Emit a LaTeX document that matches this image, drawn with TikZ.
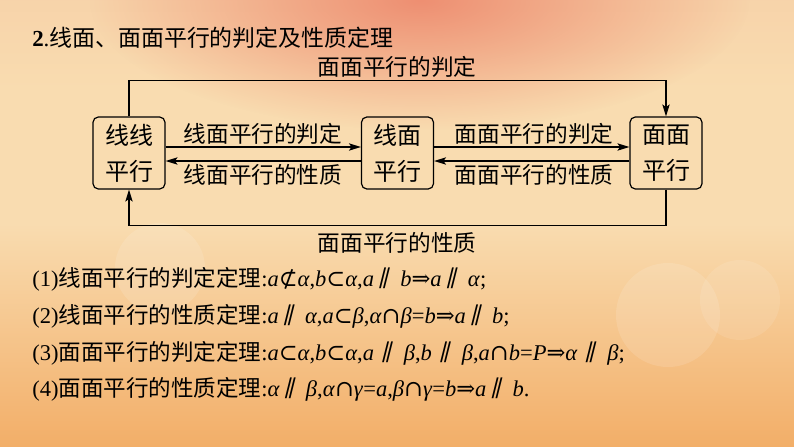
\documentclass[tikz,border=0pt]{standalone}
\usepackage{fontspec}
\setmainfont{Liberation Serif}
\newfontfamily\zh{Noto Sans CJK SC}
\newfontfamily\symf{DejaVu Serif}
\newfontfamily\parf[FakeSlant=0.25]{DejaVu Serif}
\usetikzlibrary{arrows.meta,fadings}
\tikzfading[name=radfade, inner color=transparent!0, outer color=transparent!100]
\definecolor{botc}{HTML}{E8853C}
\definecolor{lowc}{HTML}{F2AE68}
\definecolor{midc}{HTML}{F9DCB0}
\definecolor{topc}{HTML}{F3BE9A}
\definecolor{salm}{HTML}{EE8F72}
\pgfdeclareverticalshading{bgshade}{100bp}{color(0bp)=(botc); color(25bp)=(lowc); color(50bp)=(midc); color(65bp)=(midc); color(100bp)=(topc)}
\newcommand\pll{\hspace{0.15em}{\parf ∥}\hspace{0.55em}}
\newcommand\pllw{\hspace{0.28em}{\parf ∥}\hspace{0.58em}}
\newcommand\sbs{{\symf ⊂}}
\newcommand\nsbs{{\symf ⊄}}
\newcommand\capx{{\symf ∩}}
\newcommand\impl{{\symf ⇒}}
\newcommand\eqx{=}
\tikzset{
  box/.style={draw, line width=0.9pt, rounded corners=4pt, minimum width=54pt, minimum height=54pt, inner sep=0pt, align=center, font=\zh\fontsize{18}{27}\selectfont},
  arr/.style={line width=0.9pt, -{Stealth[length=9pt,width=5.5pt,inset=2pt]}},
  lab/.style={inner sep=0pt, font=\zh\fontsize{17}{20}\selectfont},
  thm/.style={inner sep=0pt, anchor=west, font=\fontsize{16.9}{20}\selectfont},
}
\begin{document}
\begin{tikzpicture}[x=0.75pt,y=-0.75pt]
\useasboundingbox (0,0) rectangle (794,447);
\shade[shading=bgshade] (0,0) rectangle (794,447);
\fill[salm, path fading=radfade] (420,0) ellipse [x radius=330, y radius=130];
\fill[white, opacity=0.12] (160,268) circle (45);
\fill[white, opacity=0.12] (668,315) circle (52);
\fill[white, opacity=0.10] (740,300) circle (40);
% title
\node[inner sep=0pt, anchor=west, font=\fontsize{17.2}{20}\selectfont] (title) at (32,38) {\textbf{2}.\zh 线面、面面平行的判定及性质定理};
% boxes
\node[box] (ll) at (129,153) {线线\\平行};
\node[box] (lm) at (397.5,153) {线面\\平行};
\node[box] (mm) at (666,153) {面面\\平行};
% middle arrows
\draw[arr] ([yshift=4.5pt]ll.east) -- ([yshift=4.5pt]lm.west);
\draw[arr] ([yshift=-6pt]lm.west) -- ([yshift=-6pt]ll.east);
\draw[arr] ([yshift=4.5pt]lm.east) -- ([yshift=4.5pt]mm.west);
\draw[arr] ([yshift=-6pt]mm.west) -- ([yshift=-6pt]lm.east);
\node[lab] (l1) at (263,134) {线面平行的判定};
\node[lab] (l2) at (263,175) {线面平行的性质};
\node[lab] (l3) at (534,134) {面面平行的判定};
\node[lab] (l4) at (534,175) {面面平行的性质};
% outer routes
\draw[arr] (ll.north) -- ++(0,-36) -| (mm.north);
\draw[arr] (mm.south) -- ++(0,36) -| (ll.south);
\node[lab] (top) at (397,67) {面面平行的判定};
\node[lab] (bot) at (397,243) {面面平行的性质};
% theorems
\node[thm] (t1) at (32,279) {(1){\zh 线面平行的判定定理}:\textit{a}\nsbs\textit{α},\textit{b}\sbs\textit{α},\textit{a}\pll\textit{b}\impl\textit{a}\pll\textit{α};};
\node[thm] (t2) at (32,316) {(2){\zh 线面平行的性质定理}:\textit{a}\pll\textit{α},\textit{a}\sbs\textit{β},\textit{α}\capx\textit{β}\eqx\textit{b}\impl\textit{a}\pll\textit{b};};
\node[thm] (t3) at (32,353) {(3){\zh 面面平行的判定定理}:\textit{a}\sbs\textit{α},\textit{b}\sbs\textit{α},\textit{a}\pllw\textit{β},\textit{b}\pllw\textit{β},\textit{a}\capx\textit{b}\eqx\textit{P}\impl\textit{α}\pllw\textit{β};};
\node[thm] (t4) at (32,389) {(4){\zh 面面平行的性质定理}:\textit{α}\pll\textit{β},\textit{α}\capx\textit{γ}\eqx\textit{a},\textit{β}\capx\textit{γ}\eqx\textit{b}\impl\textit{a}\pll\textit{b}.};
\end{tikzpicture}
\end{document}
